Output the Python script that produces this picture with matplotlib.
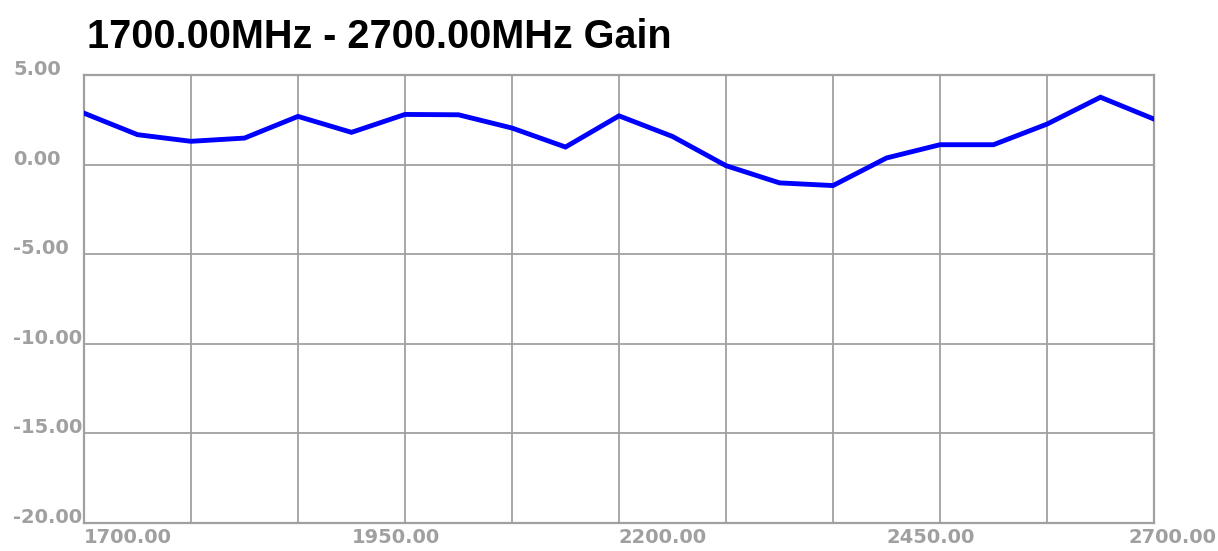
import matplotlib.pyplot as plt
import matplotlib.transforms as mtransforms
import numpy as np

# data
freq = [1700, 1750, 1800, 1850, 1900, 1950, 2000, 2050, 2100, 2150, 2200,
        2250, 2300, 2350, 2400, 2450, 2500, 2550, 2600, 2650, 2700]
gain = [2.87, 1.67, 1.30, 1.48, 2.69, 1.80, 2.80, 2.78, 2.04, 0.98, 2.72,
        1.57, -0.06, -1.02, -1.17, 0.37, 1.11, 1.11, 2.26, 3.76, 2.54]
xlabels = [1700, 1950, 2200, 2450, 2700]
ylabels = [5, 0, -5, -10, -15, -20]

W, H = 1218, 551
plt.rcParams['font.family'] = ['Liberation Sans', 'DejaVu Sans']
fig = plt.figure(figsize=(W / 100, H / 100), dpi=100)
ax = fig.add_axes([84 / W, 28 / H, 1070 / W, 448 / H])

grey = "#a0a0a0"
ax.plot(freq, gain, color="#0000ff", linewidth=3.5, solid_joinstyle="miter", zorder=3)

ax.set_xlim(1700, 2700)
ax.set_ylim(-20, 5)
ax.set_xticks(np.arange(1700, 2701, 100))
ax.set_yticks(ylabels)
ax.grid(True, color=grey, linewidth=1.3)
ax.tick_params(length=0, labelbottom=False, labelleft=False)
for s in ax.spines.values():
    s.set_color(grey)
    s.set_linewidth(1.6)

tick_font = dict(color=grey, fontsize=14, fontweight="bold", family="DejaVu Sans")

# y labels: left aligned near the figure edge, sitting on the grid line
ytr = mtransforms.blended_transform_factory(fig.transFigure, ax.transData)
for v in ylabels:
    fig.text(13 / W, v, f"{v:.2f}", transform=ytr, ha="left", va="baseline",
             **tick_font)

# x labels: left aligned at their frequency, last one pushed inside the figure
xtr = mtransforms.blended_transform_factory(ax.transData, fig.transFigure)
for v in xlabels[:-1]:
    fig.text(v, 1 - 528 / H, f"{v:.2f}", transform=xtr, ha="left", va="top",
             **tick_font)
fig.text(1217 / W, 1 - 528 / H, f"{xlabels[-1]:.2f}", ha="right", va="top",
         **tick_font)

fig.text(87 / W, 1 - 48 / H, "1700.00MHz - 2700.00MHz Gain", ha="left",
         va="baseline", fontsize=28.5, fontweight="bold", color="black")

fig.savefig("out.png", dpi=100)
